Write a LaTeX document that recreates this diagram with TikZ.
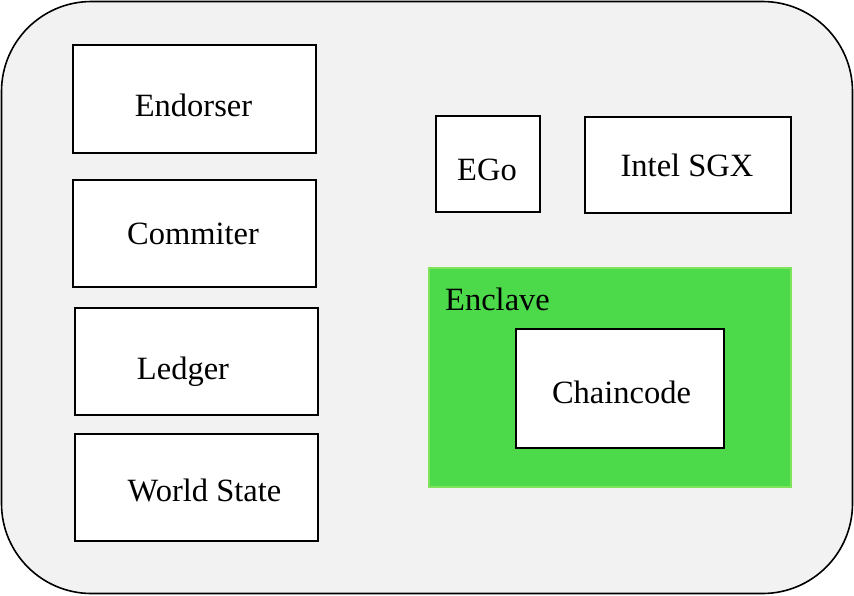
\documentclass[tikz,border=0pt]{standalone}
\usepackage{fontspec}
\setmainfont{Liberation Serif}
\definecolor{bgray}{HTML}{F2F2F2}
\definecolor{encfill}{HTML}{4CD94A}
\definecolor{encline}{HTML}{7FE35C}
\begin{document}
\begin{tikzpicture}[x=1pt,y=-1pt,
  comp/.style={draw=black,line width=2pt,fill=white},
  lbl/.style={anchor=base,inner sep=0pt,font=\fontsize{32.5}{39}\selectfont}]
\useasboundingbox (0,0) rectangle (854,595);
\draw[fill=bgray,line width=1.6pt,rounded corners=90pt] (1.5,1.5) rectangle (852.5,593.5);
% left column
\draw[comp] (73,45) rectangle (316,153);
\node[lbl] (endorser) at (193.5,116) {Endorser};
\draw[comp] (73,180) rectangle (316,287);
\node[lbl] (commiter) at (193,244) {Commiter};
\draw[comp] (75,308) rectangle (318,415);
\node[lbl] (ledger) at (183,379) {Ledger};
\draw[comp] (75,434) rectangle (318,541);
\node[lbl] (world) at (204.5,501) {World State};
% right
\draw[comp] (436,116) rectangle (540,212);
\node[lbl] (ego) at (487,180) {EGo};
\draw[comp] (585,117) rectangle (791,213);
\node[lbl] (sgx) at (687,176) {Intel SGX};
\draw[fill=encfill,draw=encline,line width=1.6pt] (429,268) rectangle (791,487);
\node[lbl,anchor=base west] (enclave) at (445,310) {Enclave};
\draw[comp] (516,329) rectangle (724,448);
\node[lbl] (chaincode) at (621.5,403) {Chaincode};
\end{tikzpicture}
\end{document}
